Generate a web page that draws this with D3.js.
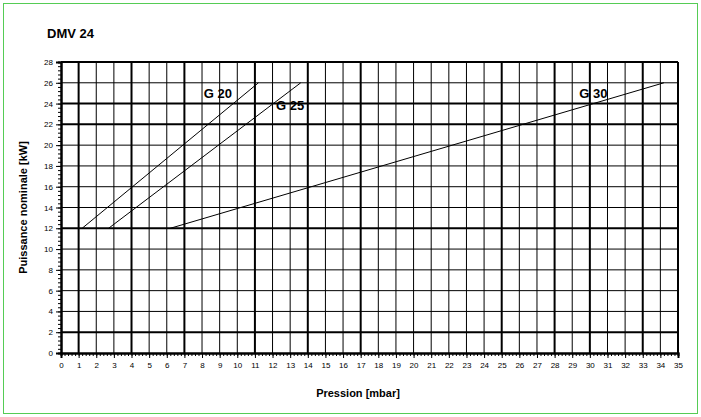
<!DOCTYPE html><html><head><script src="https://cdn.jsdelivr.net/npm/d3@7"></script>
<style>body{margin:0;background:#fff}</style></head><body><svg id="c" width="701" height="417"></svg>
<script>
const xTicks=d3.range(0,36), yTicks=d3.range(0,29,2);
const thickX=[1,4,7,11,14,17,25,28,30,33,35], thickY=[2,12,22,24,28];
const series=[{name:"G 20",pts:[[1.2,12],[11.2,26]],lab:[8.9,24.5]},
{name:"G 25",pts:[[2.7,12],[13.6,26]],lab:[13.0,23.4]},
{name:"G 30",pts:[[6.2,12],[34.2,26]],lab:[30.2,24.5]}];
const svg=d3.select("#c");
svg.append("rect").attr("x",3.5).attr("y",3.5).attr("width",694).attr("height",410).attr("fill","none").attr("stroke","#5c5").attr("stroke-width",1);
const x=d3.scaleLinear([0,35],[61,678]), y=d3.scaleLinear([0,28],[353,62]);
const g=svg.append("g");
xTicks.slice(1).forEach(v=>g.append("line").attr("x1",x(v)).attr("x2",x(v)).attr("y1",y(0)).attr("y2",y(28)).attr("stroke","#000").attr("stroke-width",thickX.includes(v)?2:1));
yTicks.slice(1).forEach(v=>g.append("line").attr("x1",x(0)).attr("x2",x(35)).attr("y1",y(v)).attr("y2",y(v)).attr("stroke","#000").attr("stroke-width",thickY.includes(v)?2:1));
const xa=svg.append("g").attr("transform",`translate(0,${y(0)})`).call(d3.axisBottom(x).tickValues(d3.range(0,35.01,0.2)).tickSize(3).tickFormat(""));
const xl=svg.append("g").attr("transform",`translate(0,${y(0)})`).call(d3.axisBottom(x).tickValues(xTicks).tickSize(5).tickFormat(d3.format("d")));
const ya=svg.append("g").attr("transform",`translate(${x(0)},0)`).call(d3.axisLeft(y).tickValues(d3.range(0,28.01,0.4)).tickSize(3).tickFormat(""));
const yl=svg.append("g").attr("transform",`translate(${x(0)},0)`).call(d3.axisLeft(y).tickValues(yTicks).tickSize(5).tickFormat(d3.format("d")));
[xa,xl,ya,yl].forEach(a=>{a.selectAll("path").attr("stroke-width",2);a.selectAll("text").attr("font-family","Liberation Sans, Arial").attr("font-size",8).attr("fill","#000");});
xl.selectAll("text").attr("dy","0.9em");
const line=d3.line().x(d=>x(d[0])).y(d=>y(d[1]));
series.forEach(s=>{g.append("path").attr("d",line(s.pts)).attr("fill","none").attr("stroke","#000").attr("stroke-width",1);
g.append("text").attr("x",x(s.lab[0])).attr("y",y(s.lab[1])).attr("font-family","Liberation Sans, Arial").attr("font-weight","bold").attr("font-size",13).attr("text-anchor","middle").text(s.name);});
svg.append("text").attr("x",47).attr("y",38).attr("font-family","Liberation Sans, Arial").attr("font-weight","bold").attr("font-size",13).text("DMV 24");
svg.append("text").attr("x",358).attr("y",397).attr("font-family","Liberation Sans, Arial").attr("font-weight","bold").attr("font-size",11).attr("text-anchor","middle").text("Pression [mbar]");
svg.append("text").attr("transform",`translate(27,${y(14)}) rotate(-90)`).attr("font-family","Liberation Sans, Arial").attr("font-weight","bold").attr("font-size",11).attr("text-anchor","middle").text("Puissance nominale [kW]");
</script></body></html>
